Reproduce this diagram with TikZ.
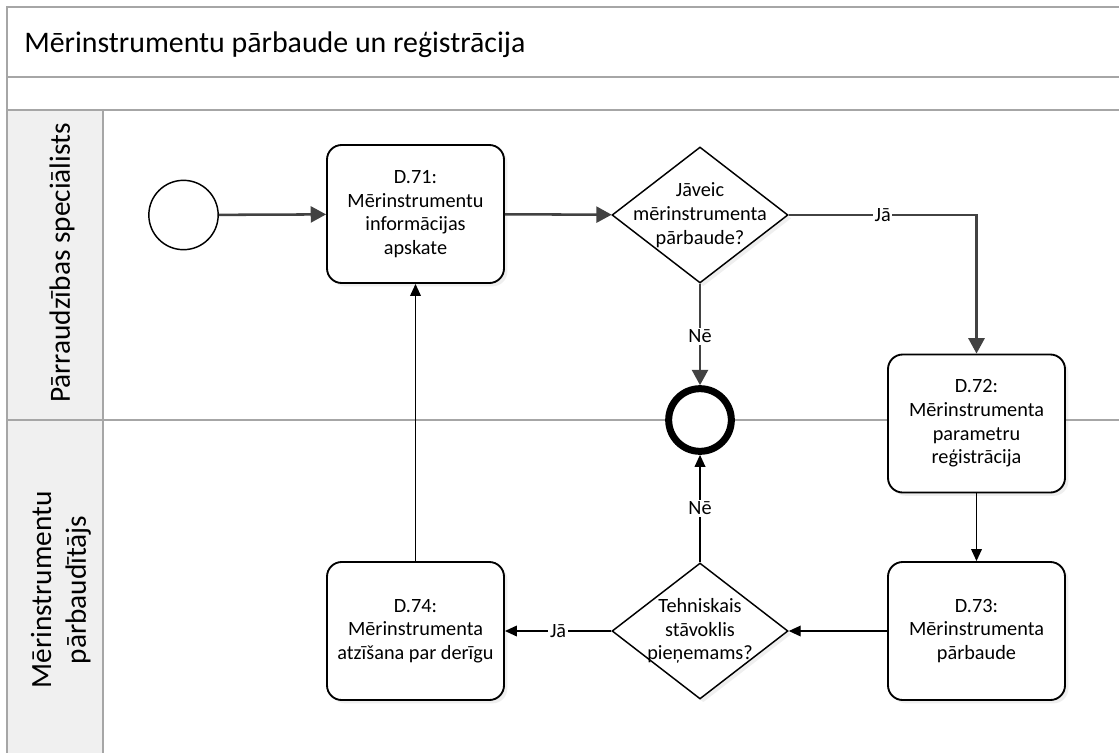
\documentclass[tikz,border=0pt]{standalone}
\usepackage{fontspec}
\setmainfont{Carlito}
\usetikzlibrary{arrows.meta,shapes.geometric,shadows}

\definecolor{laneline}{HTML}{A6A6A6}
\definecolor{lanehead}{HTML}{F0F0F0}
\definecolor{flowgray}{HTML}{424242}

\begin{document}
\begin{tikzpicture}[x=0.75pt,y=-0.75pt,
  lane/.style={draw=laneline,line width=1.5pt},
  softshadow/.style={drop shadow={opacity=0.12,shadow xshift=2.5pt,shadow yshift=-2.5pt}},
  task/.style={draw=black,line width=1.4pt,fill=white,rounded corners=11pt,
    minimum width=132.75pt,minimum height=103.5pt,align=center,
    font=\fontsize{15.2}{17.8}\selectfont,softshadow},
  gate/.style={diamond,draw=black,line width=1.1pt,fill=white,inner sep=0pt,
    minimum width=132pt,minimum height=102pt,softshadow},
  gatetext/.style={align=center,font=\fontsize{15.2}{17.8}\selectfont,inner sep=0pt},
  startev/.style={circle,draw=black,line width=1.1pt,fill=white,minimum size=52pt,inner sep=0pt},
  endev/.style={circle,draw=black,line width=5.25pt,fill=white,minimum size=47pt,inner sep=0pt},
  lbl/.style={fill=white,inner sep=1.2pt,font=\fontsize{15.2}{17.8}\selectfont},
  toparrow/.style={draw=flowgray,line width=1.9pt,-{Triangle[length=11.5pt,width=12pt]}},
  botarrow/.style={draw=black,line width=1.1pt,-{Triangle[length=9pt,width=8pt]}},
  lanetitle/.style={rotate=90,align=center,font=\fontsize{22}{26}\selectfont}]

% canvas
\fill[white] (0,0) rectangle (1119,753);
\useasboundingbox (0,0) rectangle (1119,753);

% pool and lanes
\fill[lanehead] (7,110) rectangle (103,753);
\draw[lane] (1119,7) -- (7,7) -- (7,753);
\draw[lane] (7,77) -- (1119,77);
\draw[lane] (7,110) -- (1119,110);
\draw[lane] (7,420) -- (1119,420);
\draw[lane] (103,110) -- (103,753);

\node[anchor=west,font=\fontsize{22.4}{27}\selectfont,inner sep=0pt] (title) at (24,45)
  {Mērinstrumentu pārbaude un reģistrācija};
\node[lanetitle] (lane1) at (62,263) {Pārraudzības speciālists};
\node[lanetitle] (lane2) at (61,590) {Mērinstrumentu\\pārbaudītājs};

% flow objects
\node[startev] (start) at (183.5,215) {};
\node[task] (d71) at (415.5,214) {D.71:\\Mērinstrumentu\\informācijas\\apskate};
\node[gate] (g1) at (700,215) {};
\node[gatetext] at (g1) {Jāveic\\mērinstrumenta\\pārbaude?};
\node[endev] (end) at (700,420) {};
\node[task] (d72) at (976.5,423.5) {D.72:\\Mērinstrumenta\\parametru\\reģistrācija};
\node[task] (d73) at (976.5,631) {D.73:\\Mērinstrumenta\\pārbaude};
\node[gate] (g2) at (700,631) {};
\node[gatetext] at (g2) {Tehniskais\\stāvoklis\\pieņemams?};
\node[task] (d74) at (415.5,631) {D.74:\\Mērinstrumenta\\atzīšana par derīgu};

% sequence flows
\draw[toparrow] (start) -- (d71);
\draw[toparrow] (d71) -- (g1);
\draw[toparrow] (g1.east) -| node[lbl,pos=0.25] {Jā} (d72.north);
\draw[toparrow] (g1.south) -- node[lbl,pos=0.52] {Nē} (end.north);
\draw[botarrow] (d72) -- (d73);
\draw[botarrow] (d73) -- (g2.east);
\draw[botarrow] (g2.north) -- node[lbl] {Nē} (end.south);
\draw[botarrow] (g2.west) -- node[lbl] {Jā} (d74.east);
\draw[botarrow] (d74) -- (d71);
\end{tikzpicture}
\end{document}
